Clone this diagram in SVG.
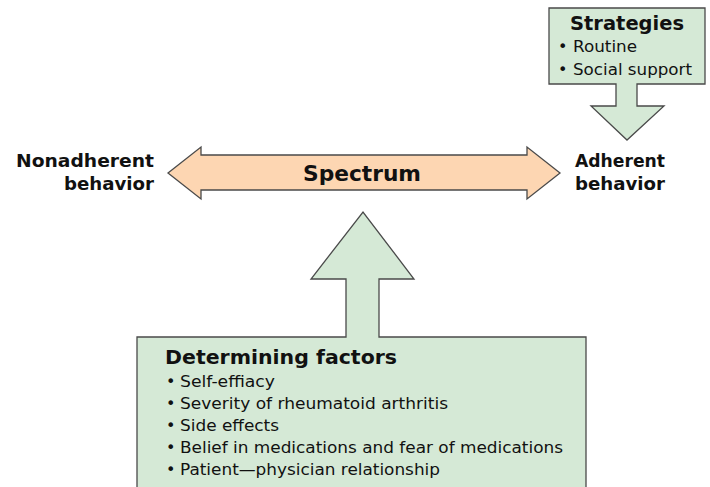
<svg xmlns="http://www.w3.org/2000/svg" width="710" height="487" viewBox="0 0 710 487">
<style>
.g{fill:#d5e9d6;stroke:#4a4a4a;stroke-width:1.3}
.o{fill:#fdd6b2;stroke:#4a4a4a;stroke-width:1.3}
text{font-family:"DejaVu Sans",Verdana,sans-serif;fill:#111}
.h{font-size:19px;font-weight:bold}
.t{font-size:16px}
.s{font-size:18px;font-weight:bold}
</style>
<rect width="710" height="487" fill="#fff"/>
<g id="connectors">
<polygon id="spectrum-arrow" class="o" points="168,173 201,147 201,155 527,155 527,147 560,173 527,199 527,190 201,190 201,199"/>
</g>
<g id="strategies">
<polygon class="g" points="549,8 705,8 705,84 637,84 637,106 664,106 627,140 591,106 616,106 616,84 549,84"/>
<text class="h" x="570" y="30" textLength="114" lengthAdjust="spacingAndGlyphs">Strategies</text>
<text class="t" x="558" y="52">•</text>
<text class="t" x="573" y="52" textLength="64" lengthAdjust="spacingAndGlyphs">Routine</text>
<text class="t" x="558" y="75">•</text>
<text class="t" x="573" y="75" textLength="119" lengthAdjust="spacingAndGlyphs">Social support</text>
</g>
<g id="factors">
<polygon class="g" points="137,495 137,337 346,337 346,279 311,279 363,212 414,279 379,279 379,337 586,337 586,495"/>
<text class="h" x="165" y="364" textLength="232" lengthAdjust="spacingAndGlyphs">Determining factors</text>
<text class="t" x="166" y="387">•</text>
<text class="t" x="180" y="387" textLength="95" lengthAdjust="spacingAndGlyphs">Self-effiacy</text>
<text class="t" x="166" y="409">•</text>
<text class="t" x="180" y="409" textLength="268" lengthAdjust="spacingAndGlyphs">Severity of rheumatoid arthritis</text>
<text class="t" x="166" y="431">•</text>
<text class="t" x="180" y="431" textLength="99" lengthAdjust="spacingAndGlyphs">Side effects</text>
<text class="t" x="166" y="453">•</text>
<text class="t" x="180" y="453" textLength="383" lengthAdjust="spacingAndGlyphs">Belief in medications and fear of medications</text>
<text class="t" x="166" y="475">•</text>
<text class="t" x="180" y="475" textLength="260" lengthAdjust="spacingAndGlyphs">Patient—physician relationship</text>
</g>
<g id="spectrum">
<text x="303" y="181" font-size="22" font-weight="bold" textLength="118" lengthAdjust="spacingAndGlyphs">Spectrum</text>
</g>
<g id="nonadherent">
<text class="s" x="16" y="167" textLength="138" lengthAdjust="spacingAndGlyphs">Nonadherent</text>
<text class="s" x="64" y="190" textLength="90" lengthAdjust="spacingAndGlyphs">behavior</text>
</g>
<g id="adherent">
<text class="s" x="575" y="167" textLength="90" lengthAdjust="spacingAndGlyphs">Adherent</text>
<text class="s" x="575" y="190" textLength="90" lengthAdjust="spacingAndGlyphs">behavior</text>
</g>
</svg>
